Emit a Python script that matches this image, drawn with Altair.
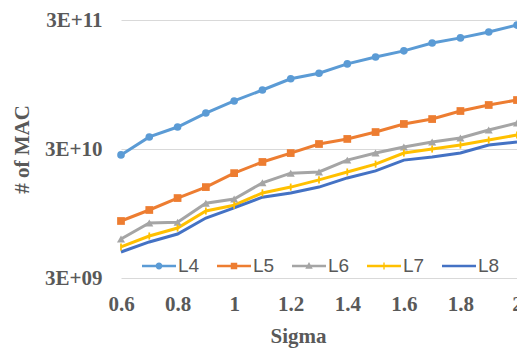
import altair as alt
import pandas as pd

sigma = [0.6, 0.7, 0.8, 0.9, 1.0, 1.1, 1.2, 1.3, 1.4, 1.5, 1.6, 1.7, 1.8, 1.9, 2.0]
L4 = [2.70e10, 3.72e10, 4.44e10, 5.70e10, 7.07e10, 8.60e10, 1.05e11, 1.16e11,
      1.37e11, 1.55e11, 1.73e11, 1.99e11, 2.18e11, 2.42e11, 2.74e11]
L5 = [8.30e9, 1.01e10, 1.25e10, 1.52e10, 1.95e10, 2.38e10, 2.79e10, 3.28e10,
      3.59e10, 4.06e10, 4.69e10, 5.12e10, 5.91e10, 6.58e10, 7.19e10]
L6 = [6.02e9, 8.01e9, 8.10e9, 1.14e10, 1.23e10, 1.64e10, 1.95e10, 1.99e10,
      2.46e10, 2.79e10, 3.11e10, 3.40e10, 3.65e10, 4.21e10, 4.77e10]
L7 = [5.22e9, 6.35e9, 7.32e9, 9.92e9, 1.10e10, 1.37e10, 1.52e10, 1.73e10,
      1.99e10, 2.29e10, 2.79e10, 3.00e10, 3.22e10, 3.52e10, 3.85e10]
L8 = [4.77e9, 5.71e9, 6.58e9, 8.75e9, 1.05e10, 1.27e10, 1.37e10, 1.52e10,
      1.79e10, 2.03e10, 2.46e10, 2.60e10, 2.79e10, 3.22e10, 3.40e10]

series_names = ["L4", "L5", "L6", "L7", "L8"]
series_values = [L4, L5, L6, L7, L8]
colors = ["#5B9BD5", "#ED7D31", "#A5A5A5", "#FFC000", "#4472C4"]
x_ticks = [0.6, 0.8, 1.0, 1.2, 1.4, 1.6, 1.8, 2.0]
y_ticks = [3e9, 3e10, 3e11]
y_tick_labels = ["3E+09", "3E+10", "3E+11"]
x_title = "Sigma"
y_title = "# of MAC"

# chart markers per series (None = no marker)
marker_shapes = ["circle", "square", "triangle-up", "M-0.25,-1H0.25V1H-0.25Z", None]
marker_sizes = [58, 60, 65, 50, 0]
# legend symbols (filled paths): line bar + marker (all drawn clockwise)
bar = "M-1,-0.08H1V0.08H-1Z"
legend_paths = [
    bar + "M-0.2,0A0.2,0.2 0 1,1 0.2,0A0.2,0.2 0 1,1 -0.2,0Z",
    bar + "M-0.19,-0.19H0.19V0.19H-0.19Z",
    bar + "M0,-0.24L0.22,0.16H-0.22Z",
    bar + "M-0.04,-0.2H0.04V0.2H-0.04Z",
    bar,
]

rows = []
for name, vals in zip(series_names, series_values):
    for s, v in zip(sigma, vals):
        rows.append({"sigma": s, "value": v, "series": name})
df = pd.DataFrame(rows)

label_expr = "'" + y_tick_labels[-1] + "'"
for t, lab in reversed(list(zip(y_ticks[:-1], y_tick_labels[:-1]))):
    label_expr = f"datum.value < {t * 1.5} ? '{lab}' : " + label_expr

serif = "Liberation Serif"
xenc = alt.X("sigma:Q", scale=alt.Scale(domain=[0.6, 2.0], nice=False, zero=False),
             axis=alt.Axis(values=x_ticks, format="~g", title=x_title, grid=False,
                           domain=False, ticks=False, labelFont=serif, labelFontSize=21,
                           labelFontWeight="bold", labelColor="#595959", labelPadding=15,
                           titleFont=serif, titleFontSize=21, titleFontWeight="bold",
                           titleColor="#595959", titleX=177, titleY=64,
                           titleBaseline="alphabetic", titleAlign="center",
                           labelFlush=False, labelOverlap=False))
yenc = alt.Y("value:Q", scale=alt.Scale(type="log", domain=[3e9, 3e11], nice=False),
             axis=alt.Axis(values=y_ticks, labelExpr=label_expr, title=y_title,
                           grid=True, gridColor="#D9D9D9", gridWidth=1, domain=False,
                           ticks=False, labelFont=serif, labelFontSize=21,
                           labelFontWeight="bold", labelColor="#595959", labelPadding=19,
                           titleFont=serif, titleFontSize=21, titleFontWeight="bold",
                           titleColor="#595959", titleAngle=-90, titleX=-99, titleY=129,
                           titleAlign="center", titleBaseline="middle",
                           labelFlush=False, labelOverlap=False))

base = alt.Chart(df)
layers = []
for name, col in zip(series_names, colors):
    layers.append(
        base.transform_filter(alt.datum.series == name)
        .mark_line(color=col, strokeWidth=3)
        .encode(x=xenc, y=yenc)
    )
for name, col, shp, sz in zip(series_names, colors, marker_shapes, marker_sizes):
    if shp is None:
        continue
    layers.append(
        base.transform_filter(alt.datum.series == name).mark_point(
            shape=shp, filled=True, size=sz, fill=col, opacity=1
        ).encode(x=xenc, y=yenc)
    )

leg = alt.Legend(orient="none", legendX=21, legendY=229, direction="horizontal",
                 symbolSize=1156, symbolOpacity=1, symbolStrokeWidth=0,
                 labelFont="Liberation Sans", labelFontSize=19, labelColor="#595959",
                 labelOffset=2, columnPadding=17, padding=0)
# legend-only layer: no rows pass the filter, the legend comes from the explicit scale domain
legend_layer = base.transform_filter(alt.datum.value < 0).mark_point(
    size=1156, filled=True, opacity=1
).encode(
    x=xenc, y=yenc,
    color=alt.Color("series:N", scale=alt.Scale(domain=series_names, range=colors),
                    legend=leg, title=""),
    shape=alt.Shape("series:N", scale=alt.Scale(domain=series_names, range=legend_paths),
                    legend=leg, title=""),
)
layers.append(legend_layer)

chart = alt.layer(*layers).properties(
    width=396, height=258,
    autosize=alt.AutoSizeParams(type="none"),
    padding={"left": 113, "top": 12, "right": 0, "bottom": 71},
    background="white",
).configure_view(stroke=None)

chart.save("out.html", embed_options={"renderer": "svg", "actions": False})
